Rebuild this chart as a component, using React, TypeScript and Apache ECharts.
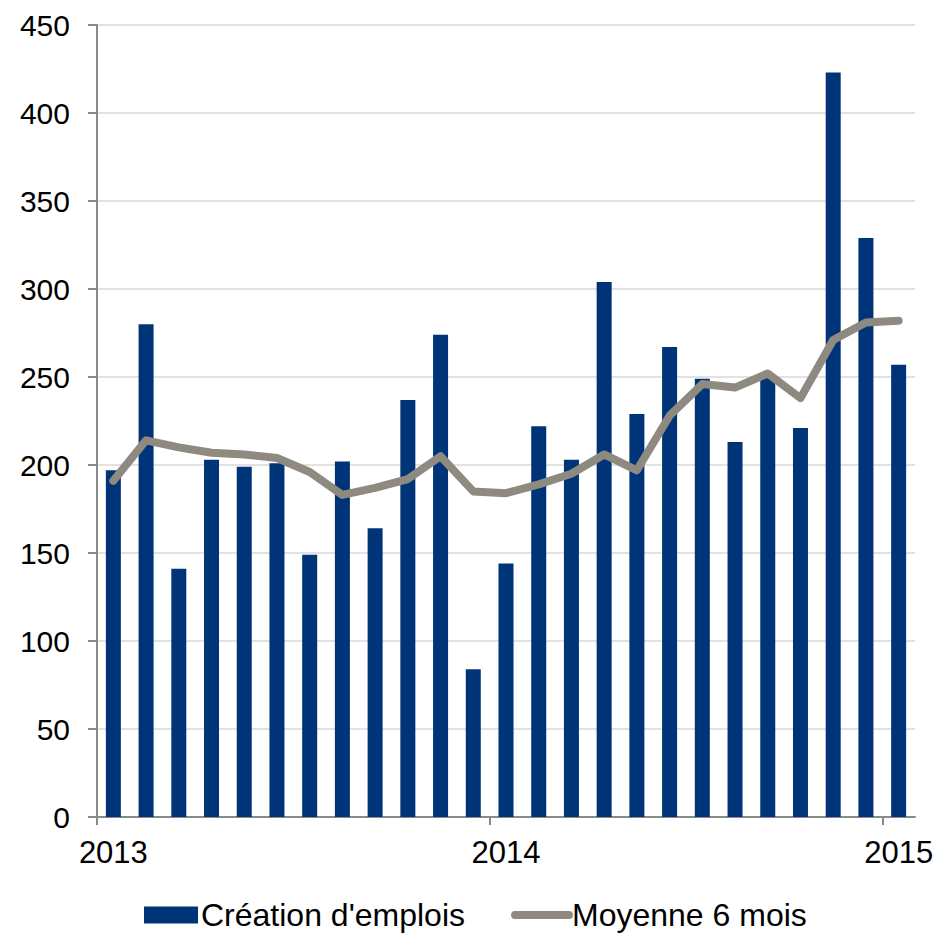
import React, { useEffect, useRef } from "react";
import * as echarts from "echarts";

const months: string[] = [
  "2013-01", "2013-02", "2013-03", "2013-04", "2013-05", "2013-06",
  "2013-07", "2013-08", "2013-09", "2013-10", "2013-11", "2013-12",
  "2014-01", "2014-02", "2014-03", "2014-04", "2014-05", "2014-06",
  "2014-07", "2014-08", "2014-09", "2014-10", "2014-11", "2014-12",
  "2015-01",
];
const creations: number[] = [
  197, 280, 141, 203, 199, 201, 149, 202, 164, 237, 274, 84,
  144, 222, 203, 304, 229, 267, 249, 213, 250, 221, 423, 329, 257,
];
const moyenne6: number[] = [
  191, 214, 210, 207, 206, 204, 196, 183, 187, 192, 205, 185,
  184, 189, 195, 206, 197, 228, 246, 244, 252, 238, 271, 281, 282,
];
const yearLabels: string[] = ["2013", "2014", "2015"];
const yTicks = { min: 0, max: 450, interval: 50 };

const FONT = "'Liberation Sans', Arial, sans-serif";
const BLUE = "#003478";
const GREY = "#8f8a80";
const AXIS = "#8a8a8a";

export default function App() {
  const ref = useRef<HTMLDivElement>(null);
  useEffect(() => {
    if (!ref.current) return;
    const chart = echarts.init(ref.current, undefined, { renderer: "svg" });
    const labelIdx = yearLabels.map((_, k) => k * 12);
    const tickIdx = yearLabels.map((_, k) => k * 12 - 0.5);
    chart.setOption({
      animation: false,
      textStyle: { fontFamily: FONT },
      grid: { left: 97, right: 24, top: 25, bottom: 116, containLabel: false },
      xAxis: {
        type: "value",
        min: -0.5,
        max: months.length - 0.5,
        splitLine: { show: false },
        axisLine: { show: true, onZero: false, lineStyle: { color: AXIS, width: 2 } },
        axisTick: {
          show: true,
          length: 8,
          customValues: tickIdx,
          lineStyle: { color: AXIS, width: 2 },
        },
        axisLabel: {
          customValues: labelIdx,
          formatter: (v: number) => yearLabels[Math.round(v / 12)] ?? "",
          fontSize: 31,
          color: "#000",
          margin: 20,
          fontFamily: FONT,
        },
      },
      yAxis: {
        type: "value",
        min: yTicks.min,
        max: yTicks.max,
        interval: yTicks.interval,
        axisLine: { show: true, onZero: false, lineStyle: { color: AXIS, width: 2 } },
        axisTick: { show: true, length: 9, lineStyle: { color: AXIS, width: 2 } },
        splitLine: { show: true, lineStyle: { color: "#d9d9d9", width: 1.5 } },
        axisLabel: { fontSize: 30, color: "#000", margin: 27, fontFamily: FONT },
      },
      legend: {
        left: 144,
        top: 899,
        padding: 0,
        itemWidth: 54,
        itemHeight: 17,
        itemGap: 46,
        textStyle: {
          fontSize: 32,
          lineHeight: 32,
          color: "#000",
          fontFamily: FONT,
          padding: [0, 0, 0, -2],
        },
        data: [
          { name: "Création d'emplois", icon: "rect" },
          {
            name: "Moyenne 6 mois",
            lineStyle: { width: 8, cap: "round" },
            itemStyle: { opacity: 0 },
          },
        ],
      },
      series: [
        {
          name: "Création d'emplois",
          type: "bar",
          barWidth: 15,
          itemStyle: { color: BLUE },
          data: creations.map((v, i) => [i, v]),
        },
        {
          name: "Moyenne 6 mois",
          type: "line",
          symbol: "none",
          showSymbol: false,
          lineStyle: { color: GREY, width: 8, cap: "round", join: "round" },
          itemStyle: { color: GREY },
          data: moyenne6.map((v, i) => [i, v]),
        },
      ],
    });
    return () => chart.dispose();
  }, []);
  return (
    <div
      ref={ref}
      style={{ position: "fixed", left: 0, top: 0, width: 939, height: 933, background: "#fff" }}
    />
  );
}
